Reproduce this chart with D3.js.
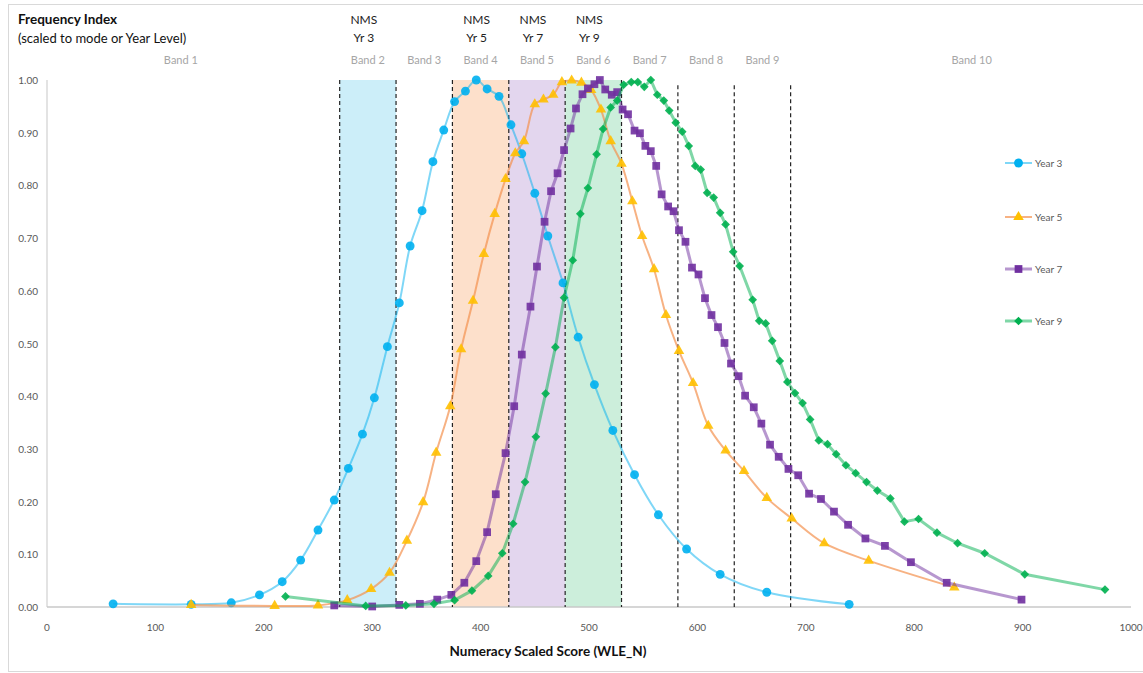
<!DOCTYPE html>
<html>
<head>
<meta charset="utf-8">
<script src="https://cdn.jsdelivr.net/npm/d3@7"></script>
<style>
  body { margin: 0; background: #fff; }
  text { font-family: Lato, "Open Sans", sans-serif; }
</style>
</head>
<body>
<div id="chart"></div>
<script>
const width = 1143;
const height = 673;

// score values (WLE_N) and frequency index
const year3Scores = [61, 133, 170, 196, 217, 234, 250, 265, 278, 291, 302, 314, 325, 335, 346, 356, 366, 376, 386, 396, 406, 417, 428, 438, 450, 462, 476, 490, 505, 522, 542, 564, 590, 621, 664, 740];
const year3Values = [0.006, 0.005, 0.008, 0.023, 0.048, 0.089, 0.146, 0.203, 0.263, 0.328, 0.397, 0.494, 0.577, 0.685, 0.752, 0.845, 0.905, 0.959, 0.979, 1.0, 0.983, 0.969, 0.915, 0.860, 0.785, 0.704, 0.615, 0.512, 0.422, 0.335, 0.251, 0.175, 0.110, 0.062, 0.028, 0.005];

const year5Scores = [133, 210, 250, 277, 299, 316, 332, 347, 359, 372, 382, 393, 403, 413, 423, 432, 440, 450, 458, 467, 475, 484, 493, 502, 511, 520, 530, 540, 549, 560, 571, 583, 596, 610, 626, 643, 664, 687, 717, 758, 837];
const year5Values = [0.004, 0.002, 0.003, 0.013, 0.034, 0.065, 0.126, 0.199, 0.293, 0.381, 0.489, 0.581, 0.670, 0.746, 0.812, 0.861, 0.884, 0.954, 0.963, 0.972, 0.996, 0.999, 0.995, 0.981, 0.944, 0.884, 0.841, 0.770, 0.704, 0.641, 0.554, 0.486, 0.425, 0.344, 0.297, 0.258, 0.207, 0.168, 0.121, 0.088, 0.037];

const year7Scores = [265, 300, 325, 344, 360, 373, 385, 396, 406, 414, 423, 431, 438, 446, 452, 459, 465, 471, 477, 483, 488, 494, 499, 505, 510, 515, 521, 526, 531, 536, 542, 547, 552, 557, 562, 567, 573, 578, 583, 589, 595, 601, 607, 613, 619, 625, 631, 638, 644, 652, 659, 667, 675, 684, 693, 703, 714, 726, 739, 755, 773, 797, 830, 899];
const year7Values = [0.003, 0.001, 0.004, 0.006, 0.014, 0.023, 0.046, 0.087, 0.142, 0.214, 0.292, 0.381, 0.479, 0.570, 0.646, 0.731, 0.789, 0.823, 0.867, 0.908, 0.946, 0.973, 0.984, 0.992, 1.0, 0.982, 0.972, 0.977, 0.944, 0.935, 0.904, 0.899, 0.875, 0.865, 0.837, 0.783, 0.760, 0.751, 0.715, 0.693, 0.644, 0.631, 0.586, 0.554, 0.531, 0.501, 0.462, 0.438, 0.401, 0.379, 0.348, 0.308, 0.285, 0.262, 0.250, 0.215, 0.205, 0.181, 0.156, 0.130, 0.116, 0.085, 0.046, 0.014];

const year9Scores = [220, 294, 331, 357, 376, 392, 407, 420, 430, 441, 451, 460, 469, 477, 485, 492, 499, 507, 513, 520, 526, 532, 539, 545, 551, 557, 563, 569, 574, 580, 586, 592, 598, 603, 609, 615, 621, 626, 633, 639, 651, 657, 663, 669, 676, 683, 690, 697, 704, 712, 720, 728, 737, 746, 756, 766, 778, 791, 804, 821, 840, 865, 902, 976];
const year9Values = [0.020, 0.002, 0.003, 0.006, 0.013, 0.031, 0.059, 0.102, 0.158, 0.237, 0.323, 0.405, 0.493, 0.587, 0.658, 0.746, 0.795, 0.859, 0.907, 0.948, 0.961, 0.991, 0.996, 0.996, 0.987, 1.0, 0.972, 0.961, 0.942, 0.919, 0.902, 0.875, 0.837, 0.830, 0.786, 0.777, 0.748, 0.726, 0.674, 0.647, 0.583, 0.543, 0.538, 0.505, 0.467, 0.427, 0.406, 0.387, 0.356, 0.316, 0.309, 0.290, 0.269, 0.254, 0.237, 0.221, 0.206, 0.162, 0.167, 0.141, 0.121, 0.102, 0.062, 0.033];

// band cut scores and labels
const bandCuts = [270, 322, 374, 426, 478, 530, 582, 634, 686];
const bandNames = ["Band 1", "Band 2", "Band 3", "Band 4", "Band 5", "Band 6", "Band 7", "Band 8", "Band 9", "Band 10"];
const nmsLabels = ["Yr 3", "Yr 5", "Yr 7", "Yr 9"];
const nmsBands = [2, 4, 5, 6];

const xTicks = [0, 100, 200, 300, 400, 500, 600, 700, 800, 900, 1000];
const yTicks = [0, 0.1, 0.2, 0.3, 0.4, 0.5, 0.6, 0.7, 0.8, 0.9, 1.0];

const seriesNames = ["Year 3", "Year 5", "Year 7", "Year 9"];

const series = [
  { name: seriesNames[0], x: year3Scores, y: year3Values, color: "#00B0F0", symbol: d3.symbolCircle, size: 62, rotate: 0, lw: 2, op: 0.5, curve: d3.curveCatmullRom },
  { name: seriesNames[1], x: year5Scores, y: year5Values, color: "#FFC000", line: "#F4914F", symbol: d3.symbolTriangle, size: 48, rotate: 0, lw: 2, op: 0.7, curve: d3.curveCatmullRom },
  { name: seriesNames[2], x: year7Scores, y: year7Values, color: "#7030A0", symbol: d3.symbolSquare, size: 60, rotate: 0, lw: 3, op: 0.5, curve: d3.curveLinear },
  { name: seriesNames[3], x: year9Scores, y: year9Values, color: "#00B050", symbol: d3.symbolSquare, size: 38, rotate: 45, lw: 3, op: 0.5, curve: d3.curveLinear }
];

const bandFills = { 2: "#CCEEF9", 4: "#FDE0CB", 5: "#E3D6EE", 6: "#CCEEDB" };

const svg = d3.select("#chart")
  .append("svg")
  .attr("width", width)
  .attr("height", height);

// outer frame
svg.append("rect")
  .attr("x", 8.5).attr("y", 4.5)
  .attr("width", width).attr("height", height - 6)
  .attr("fill", "none")
  .attr("stroke", "#d9d9d9");

const x = d3.scaleLinear().domain([0, 1000]).range([47, 1131]);
const y = d3.scaleLinear().domain([0, 1]).range([607, 80]);

// shaded bands
const g = svg.append("g");
Object.keys(bandFills).forEach(b => {
  const i = +b;
  g.append("rect")
    .attr("x", x(bandCuts[i - 2]))
    .attr("y", y(1))
    .attr("width", x(bandCuts[i - 1]) - x(bandCuts[i - 2]))
    .attr("height", y(0) - y(1))
    .attr("fill", bandFills[b]);
});

// axes lines
svg.append("line")
  .attr("x1", x(0)).attr("x2", x(0))
  .attr("y1", y(1)).attr("y2", y(0))
  .attr("stroke", "#d0d0d0").attr("stroke-width", 1.2);
svg.append("line")
  .attr("x1", x(0)).attr("x2", x(1000))
  .attr("y1", y(0)).attr("y2", y(0))
  .attr("stroke", "#c8c8c8").attr("stroke-width", 1.5);

// dashed band cuts
svg.append("g")
  .selectAll("line")
  .data(bandCuts)
  .enter().append("line")
  .attr("x1", d => x(d)).attr("x2", d => x(d))
  .attr("y1", (d, i) => i < 6 ? y(1) : y(0.99)).attr("y2", y(0))
  .attr("stroke", "#222")
  .attr("stroke-width", 1.2)
  .attr("stroke-dasharray", "4,3");

// band labels
const bandEdges = [-23].concat(bandCuts, [1020]);
svg.append("g")
  .selectAll("text")
  .data(bandNames)
  .enter().append("text")
  .attr("x", (d, i) => x((bandEdges[i] + bandEdges[i + 1]) / 2))
  .attr("y", 64)
  .attr("text-anchor", "middle")
  .attr("font-size", 11)
  .attr("fill", "#A6A6A6")
  .text(d => d);

// NMS labels
nmsLabels.forEach((lab, i) => {
  const b = nmsBands[i];
  const cx = x((bandEdges[b - 1] + bandEdges[b]) / 2) - 4;
  svg.append("text").attr("x", cx).attr("y", 24)
    .attr("text-anchor", "middle").attr("font-size", 12).attr("fill", "#222").text("NMS");
  svg.append("text").attr("x", cx).attr("y", 42)
    .attr("text-anchor", "middle").attr("font-size", 12).attr("fill", "#222").text(lab);
});

// tick labels
svg.append("g")
  .selectAll("text")
  .data(yTicks)
  .enter().append("text")
  .attr("x", 38)
  .attr("y", d => y(d) + 4)
  .attr("text-anchor", "end")
  .attr("font-size", 10)
  .attr("fill", "#595959")
  .text(d => d3.format(".2f")(d));

svg.append("g")
  .selectAll("text")
  .data(xTicks)
  .enter().append("text")
  .attr("x", d => x(d))
  .attr("y", 631)
  .attr("text-anchor", "middle")
  .attr("font-size", 10)
  .attr("fill", "#595959")
  .text(d => d);

// titles
svg.append("text").attr("x", 18).attr("y", 24)
  .attr("font-size", 13.5).attr("font-weight", "bold").attr("fill", "#111")
  .text("Frequency Index");
svg.append("text").attr("x", 18).attr("y", 43)
  .attr("font-size", 13).attr("fill", "#111")
  .text("(scaled to mode or Year Level)");
svg.append("text").attr("x", 548).attr("y", 656)
  .attr("text-anchor", "middle")
  .attr("font-size", 13.5).attr("font-weight", "bold").attr("fill", "#111")
  .text("Numeracy Scaled Score (WLE_N)");

// series
series.forEach(s => {
  const pts = s.x.map((v, i) => [v, s.y[i]]);
  const line = d3.line()
    .x(d => x(d[0]))
    .y(d => y(d[1]))
    .curve(s.curve);
  svg.append("path")
    .datum(pts)
    .attr("d", line)
    .attr("fill", "none")
    .attr("stroke", s.line || s.color)
    .attr("stroke-opacity", s.op)
    .attr("stroke-width", s.lw);
  svg.append("g")
    .selectAll("path")
    .data(pts)
    .enter().append("path")
    .attr("d", d3.symbol().type(s.symbol).size(s.size))
    .attr("transform", d => `translate(${x(d[0])},${y(d[1])}) rotate(${s.rotate})`)
    .attr("fill", s.color)
    .attr("fill-opacity", 0.9);
});

// legend
const legendY = [163, 217, 269, 321];
series.forEach((s, i) => {
  const lg = svg.append("g").attr("transform", `translate(1005,${legendY[i]})`);
  lg.append("line")
    .attr("x1", 0).attr("x2", 27)
    .attr("stroke", s.line || s.color)
    .attr("stroke-opacity", s.op)
    .attr("stroke-width", s.lw);
  lg.append("path")
    .attr("d", d3.symbol().type(s.symbol).size(s.size))
    .attr("transform", `translate(13.5,0) rotate(${s.rotate})`)
    .attr("fill", s.color);
  lg.append("text")
    .attr("x", 30).attr("y", 3.5)
    .attr("font-size", 10)
    .attr("fill", "#595959")
    .text(s.name);
});
</script>
</body>
</html>
